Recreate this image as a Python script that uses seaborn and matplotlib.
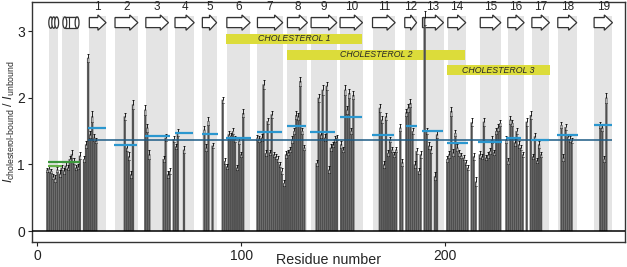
import matplotlib
matplotlib.use("Agg")
import matplotlib.pyplot as plt
import seaborn as sns
import numpy as np
import pandas as pd
from matplotlib.patches import Rectangle, FancyArrow, Ellipse

# ---------------- data ----------------
residues = [5, 6, 7, 8, 9, 10, 11, 12, 13, 14, 15, 16, 17, 18, 19, 20, 21,
            23, 24, 25, 26, 27, 28, 29,
            43, 44, 45, 46, 47,
            53, 54, 55, 62, 63, 64, 65,
            67, 68, 69, 72,
            82, 83, 84, 86,
            91, 92, 93, 94, 95, 96, 97, 98, 99, 100, 101,
            108, 109, 110, 111, 112, 113, 114, 115, 116, 117, 118, 119, 120, 121, 122, 123,
            124, 125, 126, 127, 128, 129, 130, 131,
            137, 138, 139, 140, 141, 142, 143, 144, 145, 146, 147,
            149, 150, 151, 152, 153, 154, 155,
            168, 169, 170, 171, 172, 173, 174, 175, 176, 178, 179,
            181, 182, 183, 184, 185, 186, 187, 188,
            190, 191, 192, 193, 195, 196,
            201, 202, 203, 204, 205, 206, 207, 208, 209, 210, 211,
            213, 214, 215,
            217, 218, 219, 220, 221, 222, 223, 224, 225, 226, 227,
            230, 231, 232, 233, 234, 235, 236, 237, 238,
            240, 242, 243, 244, 245, 246, 247,
            257, 258, 259, 260, 261, 262,
            276, 277, 278, 279]

ratios = [0.92, 0.93, 0.90, 0.82, 0.79, 0.92, 0.86, 0.95, 0.90, 0.98, 0.95, 1.08, 1.15, 1.05, 0.95, 0.97, 1.13,
          1.08, 1.30, 2.60, 1.45, 1.72, 1.40, 1.36,
          1.72, 1.25, 1.12, 0.85, 1.90,
          1.82, 1.55, 1.15, 1.08, 1.40, 0.85, 0.90,
          1.38, 1.27, 1.48, 1.22,
          1.52, 1.25, 1.65, 1.28,
          1.97, 1.05, 0.97, 1.45, 1.43, 1.50, 1.38, 0.95, 1.35, 1.15, 1.77,
          1.40, 1.38, 1.40, 2.20, 1.17, 1.65, 1.18, 1.75, 1.15, 1.12, 1.08, 1.00, 0.90, 0.72, 1.15, 1.18,
          1.22, 1.37, 1.50, 1.74, 1.72, 2.25, 1.50, 1.25,
          1.02, 2.00, 1.45, 2.12, 1.40, 2.18, 0.92, 1.25, 1.30, 1.38, 1.40,
          1.30, 1.22, 2.12, 1.82, 2.07, 1.50, 2.04,
          1.85, 1.67, 1.00, 1.72, 1.17, 1.37, 1.22, 1.15, 1.22, 1.55, 1.03,
          1.78, 1.85, 1.92, 1.50, 1.00, 1.20, 0.90, 1.15,
          3.20, 1.50, 1.28, 1.22, 0.82, 1.45,
          1.08, 1.15, 1.80, 1.18, 1.47, 1.25, 1.17, 1.13, 1.10, 1.03, 0.95,
          1.63, 1.12, 0.74,
          1.15, 1.12, 1.64, 1.10, 1.14, 1.20, 1.37, 1.18, 1.50, 1.55, 1.62,
          1.37, 1.05, 1.67, 1.62, 1.33, 1.50, 1.30, 1.25, 1.15,
          1.64, 1.74, 1.12, 1.42, 1.06, 1.30, 1.15,
          1.59, 1.10, 1.56, 1.42, 1.38, 1.36,
          1.59, 1.55, 1.08, 2.00]

errors = [0.03, 0.04, 0.03, 0.04, 0.05, 0.04, 0.05, 0.04, 0.04, 0.05, 0.04, 0.05, 0.06, 0.05, 0.04, 0.04, 0.05,
          0.04, 0.05, 0.06, 0.05, 0.08, 0.05, 0.04,
          0.05, 0.05, 0.06, 0.05, 0.07,
          0.07, 0.06, 0.07, 0.05, 0.05, 0.05, 0.04,
          0.05, 0.04, 0.05, 0.05,
          0.05, 0.05, 0.06, 0.04,
          0.05, 0.04, 0.04, 0.05, 0.04, 0.05, 0.04, 0.04, 0.05, 0.04, 0.06,
          0.04, 0.04, 0.05, 0.07, 0.05, 0.05, 0.04, 0.06, 0.04, 0.04, 0.05, 0.04, 0.04, 0.05, 0.05, 0.04,
          0.04, 0.05, 0.05, 0.06, 0.05, 0.07, 0.05, 0.04,
          0.05, 0.06, 0.05, 0.07, 0.05, 0.06, 0.05, 0.05, 0.04, 0.04, 0.04,
          0.05, 0.04, 0.07, 0.06, 0.07, 0.05, 0.06,
          0.06, 0.05, 0.05, 0.05, 0.04, 0.04, 0.04, 0.04, 0.04, 0.05, 0.05,
          0.06, 0.06, 0.06, 0.05, 0.05, 0.05, 0.05, 0.05,
          0.10, 0.05, 0.05, 0.05, 0.06, 0.06,
          0.05, 0.05, 0.07, 0.05, 0.05, 0.05, 0.04, 0.04, 0.04, 0.04, 0.04,
          0.06, 0.05, 0.07,
          0.05, 0.04, 0.06, 0.04, 0.04, 0.05, 0.05, 0.04, 0.05, 0.05, 0.05,
          0.05, 0.05, 0.06, 0.05, 0.05, 0.05, 0.05, 0.04, 0.04,
          0.06, 0.06, 0.04, 0.05, 0.04, 0.05, 0.04,
          0.05, 0.05, 0.05, 0.04, 0.04, 0.04,
          0.05, 0.05, 0.05, 0.07]

# secondary structure (residue ranges)
strand_labels = [str(i) for i in range(1, 20)]
strand_start = [25.6, 38.2, 53.3, 67.6, 81.0, 93.0, 108.0, 122.7, 134.3, 148.5,
                164.4, 180.2, 188.9, 201.3, 217.2, 230.7, 242.5, 255.2, 273.0]
strand_end = [33.8, 49.4, 64.4, 77.0, 88.0, 104.4, 120.4, 132.5, 146.9, 159.5,
              175.5, 186.0, 199.2, 210.1, 227.3, 238.7, 251.1, 264.5, 282.0]
helix_start = [5.7, 12.1]
helix_end = [10.4, 20.6]

# per-element mean ratios
strand_mean = [1.55, 1.29, 1.42, 1.47, 1.46, 1.40, 1.48, 1.57, 1.48, 1.71,
               1.44, 1.57, 1.50, 1.32, 1.34, 1.40, 1.37, 1.44, 1.59]
strand_mean_start = [25.0, 37.7, 52.8, 67.5, 81.0, 92.6, 108.0, 122.5, 134.0, 148.5,
                     164.0, 181.0, 188.5, 201.0, 216.0, 230.0, 242.0, 255.0, 273.0]
strand_mean_end = [34.0, 49.0, 65.0, 76.5, 88.7, 105.0, 120.0, 132.0, 146.0, 159.0,
                   175.0, 186.0, 199.0, 211.0, 228.0, 237.0, 251.0, 265.0, 282.0]
helix_mean = [1.03, 0.97]
helix_mean_start = [5.5, 5.5]
helix_mean_end = [21.0, 12.0]
overall_mean = 1.36
overall_range = [25.0, 282.0]

# cholesterol binding regions
chol_labels = ["CHOLESTEROL 1", "CHOLESTEROL 2", "CHOLESTEROL 3"]
chol_start = [92.6, 122.5, 201.0]
chol_end = [159.3, 209.8, 251.5]

# ---------------- style ----------------
sns.set_style("white")
plt.rcParams["font.family"] = ["Liberation Sans", "DejaVu Sans"]
plt.rcParams["mathtext.fontset"] = "custom"
plt.rcParams["mathtext.rm"] = "Liberation Sans"
plt.rcParams["mathtext.it"] = "Liberation Sans:italic"
plt.rcParams["mathtext.bf"] = "Liberation Sans:bold"
plt.rcParams["patch.force_edgecolor"] = False

fig = plt.figure(figsize=(6.27, 2.67), dpi=100)
ax = fig.add_axes([0.051, 0.0936, 0.946, 0.899])

band_color = "#e4e4e4"
bar_color = "#4f4f4f"
yellow = "#dcdc3a"

band_top = 3.23
arrow_y = 3.13
label_y = 3.36
chol_y = [2.885, 2.645, 2.415]
chol_h = 0.15

# shaded bands
for s, e in zip(strand_start + helix_start, strand_end + helix_end):
    ax.add_patch(Rectangle((s, 0), e - s, band_top, facecolor=band_color,
                           edgecolor="none", linewidth=0, zorder=0))

# strand arrows and numbers
for lab, s, e in zip(strand_labels, strand_start, strand_end):
    L = e - s
    ax.add_patch(FancyArrow(s, arrow_y, L, 0, width=0.15, head_width=0.23,
                            head_length=min(4.0, 0.5 * L), length_includes_head=True,
                            facecolor="white", edgecolor="#333333", linewidth=0.9, zorder=1))
    ax.text((s + e) / 2, label_y, lab, ha="center", va="center", fontsize=8.5, zorder=4)

# helix icons
h1s, h1e = helix_start[0], helix_end[0]
for cx in np.linspace(h1s + 1.0, h1e - 0.8, 3):
    ax.add_patch(Ellipse((cx, arrow_y), 1.9, 0.17, facecolor="white",
                         edgecolor="#333333", linewidth=0.9, zorder=1))
h2s, h2e = helix_start[1] + 1.5, helix_end[1] - 1.0
ax.add_patch(Rectangle((h2s, arrow_y - 0.085), h2e - h2s, 0.17, facecolor="white",
                       edgecolor="#333333", linewidth=0.9, zorder=1))
ax.add_patch(Ellipse((h2e, arrow_y), 1.9, 0.17, facecolor="white",
                     edgecolor="#333333", linewidth=0.9, zorder=1))
ax.add_patch(Ellipse((h2s, arrow_y), 1.9, 0.17, facecolor="white",
                     edgecolor="#333333", linewidth=0.9, zorder=1.1))
ax.plot([h2s + 1.8, h2s + 1.8], [arrow_y - 0.085, arrow_y + 0.085], color="#333333",
        lw=0.8, zorder=1.2)

# cholesterol bars
for lab, s, e, y in zip(chol_labels, chol_start, chol_end, chol_y):
    ax.add_patch(Rectangle((s, y - chol_h / 2), e - s, chol_h, facecolor=yellow,
                           edgecolor="none", linewidth=0, zorder=1))
    ax.text((s + e) / 2, y, lab, ha="center", va="center", fontsize=6.3,
            fontstyle="italic", zorder=4)

# bars
df = pd.DataFrame({"residue": residues, "ratio": ratios, "err": errors})
sns.barplot(data=df, x="residue", y="ratio", native_scale=True, color=bar_color,
            saturation=1, width=1.0, errorbar=None, ax=ax, zorder=2,
            edgecolor="#707070", linewidth=0.2, snap=False)

# error bars (upper part black, lower part light)
r = df["residue"].to_numpy(dtype=float)
v = df["ratio"].to_numpy()
er = df["err"].to_numpy()
ax.errorbar(r, v, yerr=er, fmt="none", ecolor="black", elinewidth=0.6,
            capsize=1.0, capthick=0.6, zorder=2.5)
ax.vlines(r, v - er, v - 0.005, colors="#d0d0d0", linewidth=0.6, zorder=2.6)

# mean lines
ax.hlines(overall_mean, overall_range[0], overall_range[1], colors="#1d5b85",
          linewidth=1.1, zorder=3)
ax.hlines(strand_mean, strand_mean_start, strand_mean_end, colors="#2b97cf",
          linewidth=1.6, zorder=3.2)
ax.hlines(helix_mean, helix_mean_start, helix_mean_end, colors=["#3c963c", "#66b04a"],
          linewidth=1.6, zorder=3.2)

# zero line
ax.axhline(0, color="black", linewidth=1.1, zorder=3)

# axes
ax.set_xlim(-2.5, 288.2)
ax.set_ylim(-0.165, 3.44)
ax.set_xticks([0, 100, 200])
ax.set_xticklabels(["0", "100", "200"])
ax.set_yticks([0, 1, 2, 3])
ax.set_yticklabels(["0", "1", "2", "3"])
ax.tick_params(axis="both", direction="out", length=3, width=0.8, labelsize=10,
               colors="#222222", left=True, bottom=True, pad=2)
for sp in ax.spines.values():
    sp.set_visible(True)
    sp.set_color("#333333")
    sp.set_linewidth(1.0)
ax.set_xlabel("Residue number", fontsize=10.3)
ax.xaxis.label.set_va("center")
ax.xaxis.set_label_coords(0.5, -0.076)
ax.set_ylabel(r"$I_{\mathrm{cholesterol‐bound}}\ /\ I_{\mathrm{unbound}}$", fontsize=9)
ax.yaxis.label.set_va("center")
ax.yaxis.set_label_coords(-0.038, 0.5)

fig.savefig("out.png", dpi=100)
